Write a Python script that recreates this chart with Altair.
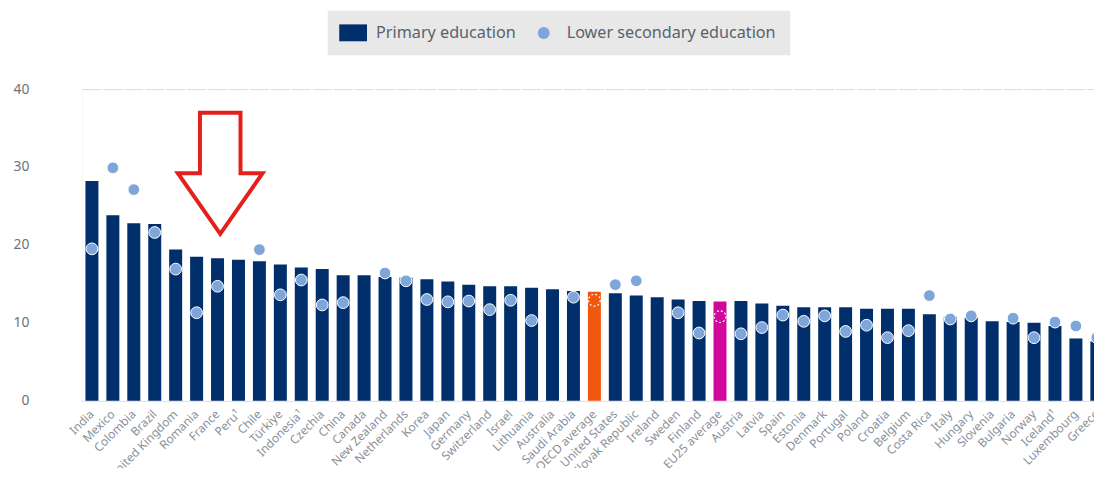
import altair as alt
import pandas as pd

countries = ["India", "Mexico", "Colombia", "Brazil", "United Kingdom", "Romania", "France", "Peru¹", "Chile",
             "Türkiye", "Indonesia¹", "Czechia", "China", "Canada", "New Zealand", "Netherlands", "Korea", "Japan",
             "Germany", "Switzerland", "Israel", "Lithuania", "Australia", "Saudi Arabia", "OECD average",
             "United States", "Slovak Republic", "Ireland", "Sweden", "Finland", "EU25 average", "Austria", "Latvia",
             "Spain", "Estonia", "Denmark", "Portugal", "Poland", "Croatia", "Belgium", "Costa Rica", "Italy",
             "Hungary", "Slovenia", "Bulgaria", "Norway", "Iceland¹", "Luxembourg", "Greece"]

primary = [28.2, 23.8, 22.8, 22.7, 19.4, 18.5, 18.3, 18.1, 17.9,
           17.5, 17.1, 16.9, 16.1, 16.1, 15.9, 15.8, 15.6, 15.3,
           14.9, 14.7, 14.7, 14.5, 14.3, 14.1, 14.0,
           13.8, 13.5, 13.3, 13.0, 12.8, 12.75, 12.8, 12.5,
           12.2, 12.0, 12.0, 12.0, 11.8, 11.8, 11.8, 11.1, 10.8,
           10.7, 10.2, 10.1, 10.0, 9.6, 8.0, 7.6]

lower_secondary = [19.5, 29.9, 27.1, 21.6, 16.9, 11.3, 14.7, None, 19.4,
                   13.6, 15.5, 12.3, 12.6, None, 16.4, 15.4, 13.0, 12.7,
                   12.8, 11.7, 12.9, 10.3, None, 13.3, 12.9,
                   14.9, 15.4, None, 11.3, 8.7, 10.8, 8.6, 9.4,
                   11.0, 10.2, 10.9, 8.9, 9.7, 8.1, 9.0, 13.5, 10.5,
                   10.9, None, 10.6, 8.1, 10.1, 9.6, 8.1]

series_names = ["Primary education", "Lower secondary education", "OECD average", "EU25 average"]
series_colors = ["#002f6c", "#7ea6da", "#f0570f", "#d1089c"]
averages = ["OECD average", "EU25 average"]

arrow_target = "France"
arrow_value = 29.2

df = pd.DataFrame({"country": countries, "primary": primary, "lower": lower_secondary})
df["bar_cat"] = [c if c in averages else "Primary education" for c in countries]
df["pt_cat"] = [c if c in averages else "Lower secondary education" for c in countries]
df["is_avg"] = [c in averages for c in countries]

arrow_df = pd.DataFrame({"country": [arrow_target], "v": [arrow_value]})

FONT = "Noto Sans"
step = 21.09
xscale = alt.Scale(domain=countries, range=[0, step * len(countries)], paddingInner=0.38, paddingOuter=0.19)
yscale = alt.Scale(domain=[0, 40], nice=False)
cscale = alt.Scale(domain=series_names, range=series_colors)

xaxis = alt.Axis(title=None, labelAngle=-45, labelAlign="right", labelBaseline="middle", labelPadding=11,
                 labelFontSize=12, labelColor="#8a9099", labelFont=FONT, ticks=False, domain=False,
                 grid=False, labelOverlap=False)
yaxis = alt.Axis(title=None, values=[0, 10, 20, 30, 40], domain=False, ticks=False, labelPadding=53,
                 labelFontSize=14, labelColor="#6a717b", labelFont=FONT, gridColor="white", gridWidth=2,
                 gridOpacity={"condition": {"test": "datum.value >= 40", "value": 0}, "value": 1})

X = alt.X("country:N", sort=countries, scale=xscale, axis=xaxis)

base = alt.Chart(df)

rules = base.mark_rule(color="white", strokeWidth=2, xOffset=-step * 0.19).encode(
    x=alt.X("country:N", sort=countries, scale=xscale, axis=xaxis, bandPosition=0),
    y=alt.datum(0, scale=yscale),
    y2=alt.datum(40),
)

legend = alt.Legend(
    title=None, orient="none", legendX=248, legendY=-79, direction="horizontal",
    values=["Primary education", "Lower secondary education"],
    fillColor="#e8e8e8", padding=14,
    symbolSize=144, symbolStrokeWidth=0, labelOffset=15, symbolOffset=3.5,
    labelFontSize=16.3, labelColor="#59626c", labelFont=FONT, labelLimit=400,
    symbolType=alt.ExprRef(
        "datum.value === 'Primary education' ? 'M-2.33,-1.42H2.33V1.42H-2.33Z' : 'circle'"),
)

bars = base.mark_bar().encode(
    x=X,
    y=alt.Y("primary:Q", scale=yscale, axis=yaxis),
    color=alt.Color("bar_cat:N", scale=cscale, legend=legend),
)

pts = base.transform_filter("datum.lower != null && !datum.is_avg").mark_circle(
    size=140, opacity=1, stroke="white", strokeWidth=1).encode(
    x=X,
    y=alt.Y("lower:Q", scale=yscale),
    color=alt.Color("pt_cat:N", scale=cscale),
)

avg_pts = base.transform_filter("datum.is_avg").mark_circle(
    size=140, opacity=1, stroke="white", strokeWidth=1.2, strokeDash=[2, 2]).encode(
    x=X,
    y=alt.Y("lower:Q", scale=yscale),
    color=alt.Color("pt_cat:N", scale=cscale),
)

arrow = alt.Chart(arrow_df).mark_point(
    shape="M-0.335,-1L0.335,-1L0.335,0L0.7,0L0,1L-0.7,0L-0.335,0Z",
    size=14884, filled=False, stroke="#e3211c", strokeWidth=4, opacity=1, xOffset=2.7,
    strokeJoin="miter").encode(
    x=X,
    y=alt.Y("v:Q", scale=yscale),
)

chart = alt.layer(rules, bars, pts, avg_pts, arrow).properties(
    width=1020, height=314,
    autosize=alt.AutoSizeParams(type="none"),
    padding={"left": 74, "top": 80, "right": 0, "bottom": 66},
).configure_view(fill="#e8e8e8", stroke=None).configure(font=FONT).configure_legend(columnPadding=16)

chart.save("out.html", embed_options={"renderer": "svg", "actions": False})
